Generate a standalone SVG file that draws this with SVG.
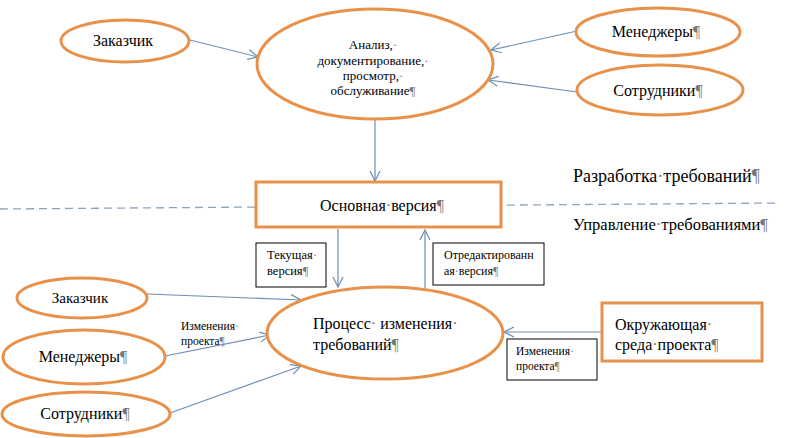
<svg xmlns="http://www.w3.org/2000/svg" width="801" height="438" viewBox="0 0 801 438">
<style>
.o{fill:#fff;stroke:#E8914A;stroke-width:3}
.b{fill:#fff;stroke:#000;stroke-width:1}
.c{stroke:#6C8EB5;stroke-width:1.2;fill:none;marker-end:url(#a)}
text{font-family:'Liberation Serif','DejaVu Serif',serif;fill:#000}
.m{fill:#777}
</style>
<defs>
<marker id="a" viewBox="0 0 12 12" refX="11" refY="6" markerWidth="12" markerHeight="12" markerUnits="userSpaceOnUse" orient="auto">
<path d="M1,1 L11,6 L1,11" fill="none" stroke="#6C8EB5" stroke-width="1.2"/>
</marker>
</defs>
<line x1="0" y1="209" x2="780" y2="203" stroke="#8EA3BD" stroke-width="1.3" stroke-dasharray="8,5"/>
<g id="connectors">
<line class="c" x1="190" y1="40" x2="258" y2="57"/>
<line class="c" x1="577" y1="31" x2="491" y2="50"/>
<line class="c" x1="577" y1="92" x2="488" y2="80"/>
<line class="c" x1="375" y1="120" x2="375" y2="181"/>
<line class="c" x1="338" y1="229" x2="338" y2="287"/>
<line class="c" x1="425" y1="289" x2="425" y2="230"/>
<line class="c" x1="147" y1="294" x2="301" y2="300"/>
<line class="c" x1="165" y1="356" x2="270" y2="335"/>
<line class="c" x1="170" y1="413" x2="301" y2="366"/>
<line class="c" x1="602" y1="332" x2="504" y2="332"/>
</g>
<g id="n-zakazchik-top">
<ellipse class="o" cx="125" cy="41" rx="64" ry="21"/>
<text x="123" y="46" font-size="16" text-anchor="middle">Заказчик</text>
</g>
<g id="n-analiz">
<ellipse class="o" cx="375" cy="64" rx="118" ry="55"/>
<text font-size="13" text-anchor="middle"><tspan x="373" y="49">Анализ,<tspan class="m">·</tspan></tspan><tspan x="373" y="65">документирование,<tspan class="m">·</tspan></tspan><tspan x="373" y="80">просмотр,<tspan class="m">·</tspan></tspan><tspan x="373" y="95">обслуживание<tspan class="m">¶</tspan></tspan></text>
</g>
<g id="n-menedzhery-top">
<ellipse class="o" cx="658" cy="32" rx="82" ry="24"/>
<text x="656" y="37" font-size="16" text-anchor="middle">Менеджеры<tspan class="m">¶</tspan></text>
</g>
<g id="n-sotrudniki-top">
<ellipse class="o" cx="660" cy="90" rx="83" ry="25"/>
<text x="658" y="96" font-size="16" text-anchor="middle">Сотрудники<tspan class="m">¶</tspan></text>
</g>
<g id="n-osnovnaya">
<rect class="o" x="256" y="182" width="245" height="45"/>
<text x="382" y="211" font-size="16" text-anchor="middle">Основная<tspan class="m">·</tspan>версия<tspan class="m">¶</tspan></text>
</g>
<g id="l-razrabotka">
<text x="573" y="182" font-size="18">Разработка<tspan class="m">·</tspan>требований<tspan class="m">¶</tspan></text>
</g>
<g id="l-upravlenie">
<text x="573" y="230" font-size="16.5">Управление<tspan class="m">·</tspan>требованиями<tspan class="m">¶</tspan></text>
</g>
<g id="n-tekushaya">
<rect class="b" x="256" y="243" width="70" height="44"/>
<text font-size="12.5"><tspan x="267" y="259">Текущая<tspan class="m">·</tspan></tspan><tspan x="267" y="275">версия<tspan class="m">¶</tspan></tspan></text>
</g>
<g id="n-otredakt">
<rect class="b" x="433" y="243" width="111" height="42"/>
<text font-size="12"><tspan x="444" y="259">Отредактированн</tspan><tspan x="444" y="275">ая<tspan class="m">·</tspan>версия<tspan class="m">¶</tspan></tspan></text>
</g>
<g id="n-process">
<ellipse class="o" cx="385" cy="333" rx="118" ry="46"/>
<text font-size="16"><tspan x="313" y="329">Процесс<tspan class="m">·</tspan> изменения<tspan class="m">·</tspan></tspan><tspan x="313" y="350">требований<tspan class="m">¶</tspan></tspan></text>
</g>
<g id="n-zakazchik-bot">
<ellipse class="o" cx="82" cy="298" rx="65" ry="20"/>
<text x="80" y="303" font-size="15" text-anchor="middle">Заказчик</text>
</g>
<g id="n-menedzhery-bot">
<ellipse class="o" cx="84" cy="357" rx="81" ry="27"/>
<text x="83" y="362" font-size="16" text-anchor="middle">Менеджеры<tspan class="m">¶</tspan></text>
</g>
<g id="n-sotrudniki-bot">
<ellipse class="o" cx="86" cy="414" rx="84" ry="22"/>
<text x="85" y="419" font-size="16" text-anchor="middle">Сотрудники<tspan class="m">¶</tspan></text>
</g>
<g id="l-izmeneniya-left">
<text font-size="11.5"><tspan x="181" y="330">Изменения<tspan class="m">·</tspan></tspan><tspan x="181" y="345">проекта<tspan class="m">¶</tspan></tspan></text>
</g>
<g id="n-okruzh">
<rect class="o" x="602" y="303" width="160" height="58"/>
<text font-size="16"><tspan x="615" y="330">Окружающая<tspan class="m">·</tspan></tspan><tspan x="615" y="350">среда<tspan class="m">·</tspan>проекта<tspan class="m">¶</tspan></tspan></text>
</g>
<g id="n-izmeneniya-right">
<rect class="b" x="507" y="339" width="90" height="41"/>
<text font-size="11.5"><tspan x="516" y="355">Изменения<tspan class="m">·</tspan></tspan><tspan x="516" y="370">проекта<tspan class="m">¶</tspan></tspan></text>
</g>
</svg>
